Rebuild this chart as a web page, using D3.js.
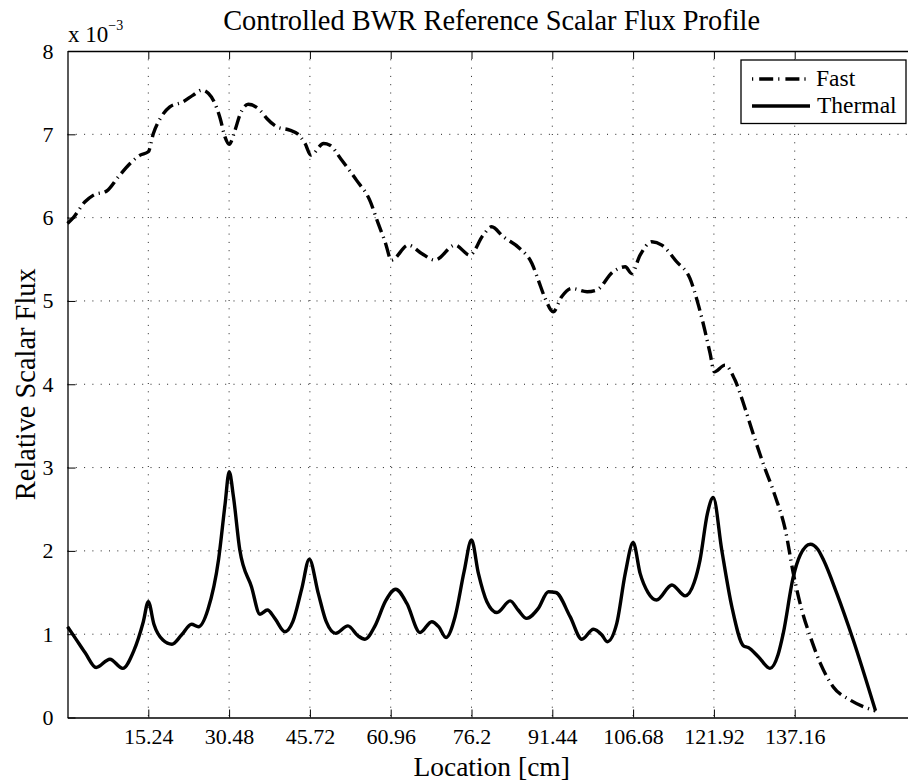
<!DOCTYPE html>
<html lang="en">
  <head>
    <title>Scalar Flux Profile</title>
    <meta charset="UTF-8">
    <script src="https://d3js.org/d3.v7.min.js"></script>
    <style>
      * {
        margin: 0;
        padding: 0;
      }
      body {
        background: white;
      }
      svg {
        display: block;
      }
      text {
        font-family: 'Liberation Serif', serif;
      }
    </style>
  </head>
  <body>
    <script>
      // values, flux in units of 1e-3
      const fastX = [0, 1.1, 3.3, 4.9, 7.4, 9.6, 11.8, 13.7, 15.24, 16.2, 17.5, 19.3, 21.8, 23.7, 25.3, 26.6, 27.8, 28.8, 29.7, 30.5,
        31.6, 32.5, 34.1, 36.3, 37.6, 39.5, 41.9, 43.5, 44.8, 45.9, 48.3, 49.5, 51.6, 54.5, 57.0, 58.6, 59.9, 61.1, 64.3, 66.8,
        69.3, 73.1, 75.9, 78.4, 80.0, 82.2, 85.3, 87.6, 88.8, 90.1, 91.6, 93.2, 95.1, 98.0, 99.8, 102.9, 105.2, 106.4, 108.0, 110.2,
        112.1, 114.9, 117.4, 119.0, 120.2, 121.2, 122.0, 124.0, 125.9, 127.8, 129.2, 131.2, 133.4, 135.4, 136.9, 138.5, 140.1, 142.0, 144.4, 147.6,
        150.1, 152.4]
      const fastY = [5.93, 6.0, 6.19, 6.27, 6.32, 6.49, 6.65, 6.75, 6.79, 7.01, 7.19, 7.33, 7.39, 7.47, 7.53, 7.49, 7.37, 7.19, 6.97, 6.88,
        7.05, 7.23, 7.36, 7.29, 7.19, 7.09, 7.05, 7.0, 6.89, 6.75, 6.89, 6.87, 6.70, 6.45, 6.21, 5.93, 5.71, 5.49, 5.67, 5.57,
        5.49, 5.67, 5.55, 5.79, 5.89, 5.77, 5.63, 5.45, 5.25, 5.03, 4.87, 5.05, 5.15, 5.11, 5.13, 5.35, 5.41, 5.33, 5.55, 5.71,
        5.67, 5.47, 5.27, 4.95, 4.65, 4.37, 4.15, 4.23, 4.05, 3.71, 3.43, 3.05, 2.67, 2.25, 1.73, 1.29, 0.97, 0.65, 0.37, 0.21,
        0.13, 0.08]

      const thermalX = [0, 1.5, 3.3, 5.4, 8.0, 10.4, 12.5, 14.3, 15.24, 16.3, 18.0, 19.7, 21.5, 23.4, 24.7, 26.5, 28.5, 29.7, 30.5, 31.3,
        32.5, 34.7, 36.3, 37.7, 39.1, 41.0, 42.5, 44.2, 45.6, 47.3, 48.8, 50.6, 52.9, 54.8, 56.1, 58.0, 60.0, 61.9, 64.0, 66.5,
        68.7, 70.0, 71.4, 73.1, 74.8, 76.2, 77.5, 79.1, 81.0, 83.5, 85.0, 86.6, 88.8, 90.7, 92.1, 94.8, 97.0, 99.2, 100.8, 101.8,
        103.6, 105.2, 106.7, 108.0, 109.5, 111.1, 114.0, 116.5, 118.2, 119.3, 120.7, 121.8, 123.4, 125.3, 127.5, 128.4, 130.3, 132.5, 134.0, 135.0,
        136.9, 138.2, 140.1, 141.5, 142.6, 145.1, 148.2, 152.4]
      const thermalY = [1.09, 0.95, 0.78, 0.60, 0.70, 0.59, 0.80, 1.15, 1.39, 1.12, 0.93, 0.88, 0.99, 1.12, 1.09, 1.30, 1.90, 2.55, 2.95, 2.65,
        2.01, 1.57, 1.24, 1.29, 1.19, 1.03, 1.15, 1.55, 1.90, 1.49, 1.15, 1.01, 1.10, 0.98, 0.94, 1.10, 1.40, 1.54, 1.37, 1.02,
        1.15, 1.09, 0.96, 1.21, 1.75, 2.13, 1.73, 1.39, 1.26, 1.40, 1.29, 1.19, 1.31, 1.51, 1.50, 1.21, 0.94, 1.06, 0.99, 0.91,
        1.13, 1.73, 2.10, 1.73, 1.50, 1.41, 1.59, 1.46, 1.62, 1.89, 2.45, 2.64, 2.01, 1.33, 0.86, 0.84, 0.73, 0.59, 0.75, 1.01,
        1.69, 1.95, 2.08, 2.02, 1.89, 1.49, 0.93, 0.08]

      const xTicks = [15.24, 30.48, 45.72, 60.96, 76.2, 91.44, 106.68, 121.92, 137.16]
      const yTicks = [0, 1, 2, 3, 4, 5, 6, 7, 8]

      const width = 908
      const height = 782
      const plotLeft = 67.5
      const plotRight = 915.8
      const plotTop = 51
      const plotBottom = 717.5

      const xScale = d3.scaleLinear().domain([0, 160]).range([plotLeft, plotRight])
      const yScale = d3.scaleLinear().domain([0, 8]).range([plotBottom, plotTop])

      const svg = d3.select('body')
                    .append('svg')
                    .attr('width', width)
                    .attr('height', height)

      // grid
      svg.append('g')
         .selectAll('line')
         .data(xTicks)
         .enter()
         .append('line')
         .attr('x1', (d) => xScale(d))
         .attr('x2', (d) => xScale(d))
         .attr('y1', plotTop)
         .attr('y2', plotBottom)
         .attr('stroke', '#222')
         .attr('stroke-dasharray', '1,7.3')

      svg.append('g')
         .selectAll('line')
         .data(yTicks.slice(1, -1))
         .enter()
         .append('line')
         .attr('x1', plotLeft)
         .attr('x2', plotRight)
         .attr('y1', (d) => yScale(d))
         .attr('y2', (d) => yScale(d))
         .attr('stroke', '#222')
         .attr('stroke-dasharray', '1,7.3')

      // axes
      const xAxis = d3.axisBottom(xScale).tickValues(xTicks).tickFormat((d) => String(d))
                      .tickSizeInner(-8).tickSizeOuter(0).tickPadding(11)
      const xTop = d3.axisTop(xScale).tickValues(xTicks).tickFormat('').tickSizeInner(-8).tickSizeOuter(0)
      const yAxis = d3.axisLeft(yScale).tickValues(yTicks).tickFormat((d) => String(d))
                      .tickSizeInner(-8).tickSizeOuter(0).tickPadding(14)

      svg.append('g')
         .attr('transform', 'translate(0,' + plotBottom + ')')
         .call(xAxis)
      svg.append('g')
         .attr('transform', 'translate(0,' + plotTop + ')')
         .call(xTop)
      svg.append('g')
         .attr('transform', 'translate(' + plotLeft + ',0)')
         .call(yAxis)

      svg.selectAll('g').attr('font-family', "'Liberation Serif', serif").attr('font-size', 22)
      svg.selectAll('.domain').attr('stroke', '#000').attr('stroke-width', 1.3)
      svg.selectAll('.tick line').attr('stroke', '#000').attr('stroke-width', 1)
      svg.selectAll('.tick text').attr('fill', '#000')

      // curves
      const line = d3.line()
                     .x((d) => xScale(d[0]))
                     .y((d) => yScale(d[1]))
                     .curve(d3.curveMonotoneX)

      svg.append('path')
         .datum(d3.zip(thermalX, thermalY))
         .attr('d', line)
         .attr('fill', 'none')
         .attr('stroke', '#000')
         .attr('stroke-width', 3.4)
         .attr('stroke-linejoin', 'round')

      svg.append('path')
         .datum(d3.zip(fastX, fastY))
         .attr('d', line)
         .attr('fill', 'none')
         .attr('stroke', '#000')
         .attr('stroke-width', 3.4)
         .attr('stroke-dasharray', '14,5,1.2,5')

      // exponent
      const exp = svg.append('text')
                     .attr('x', 68)
                     .attr('y', 42)
                     .style('font-size', '23px')
      exp.append('tspan').text('x 10')
      exp.append('tspan').text('\u22123').attr('dy', -12).style('font-size', '14px')

      // labels
      svg.append('text')
         .text('Controlled BWR Reference Scalar Flux Profile')
         .attr('x', (plotLeft + plotRight) / 2)
         .attr('y', 30)
         .attr('text-anchor', 'middle')
         .style('font-size', '28.4px')

      svg.append('text')
         .text('Location [cm]')
         .attr('x', (plotLeft + plotRight) / 2)
         .attr('y', 776)
         .attr('text-anchor', 'middle')
         .style('font-size', '27.5px')

      svg.append('text')
         .text('Relative Scalar Flux')
         .attr('transform', 'translate(35,' + (plotTop + plotBottom) / 2 + ') rotate(-90)')
         .attr('text-anchor', 'middle')
         .style('font-size', '28.4px')

      // legend
      const legend = svg.append('g')
      legend.append('rect')
            .attr('x', 741)
            .attr('y', 60)
            .attr('width', 165)
            .attr('height', 63.5)
            .attr('fill', 'white')
            .attr('stroke', '#000')
            .attr('stroke-width', 1.3)

      legend.append('line')
            .attr('x1', 752).attr('x2', 810)
            .attr('y1', 79).attr('y2', 79)
            .attr('stroke', '#000')
            .attr('stroke-width', 3.4)
            .attr('stroke-dasharray', '1.2,6,14,5')
      legend.append('line')
            .attr('x1', 752).attr('x2', 810)
            .attr('y1', 106).attr('y2', 106)
            .attr('stroke', '#000')
            .attr('stroke-width', 3.4)

      legend.append('text').text('Fast').attr('x', 816).attr('y', 86).style('font-size', '23.5px')
      legend.append('text').text('Thermal').attr('x', 817).attr('y', 113).style('font-size', '23.5px')
    </script>
  </body>
</html>
